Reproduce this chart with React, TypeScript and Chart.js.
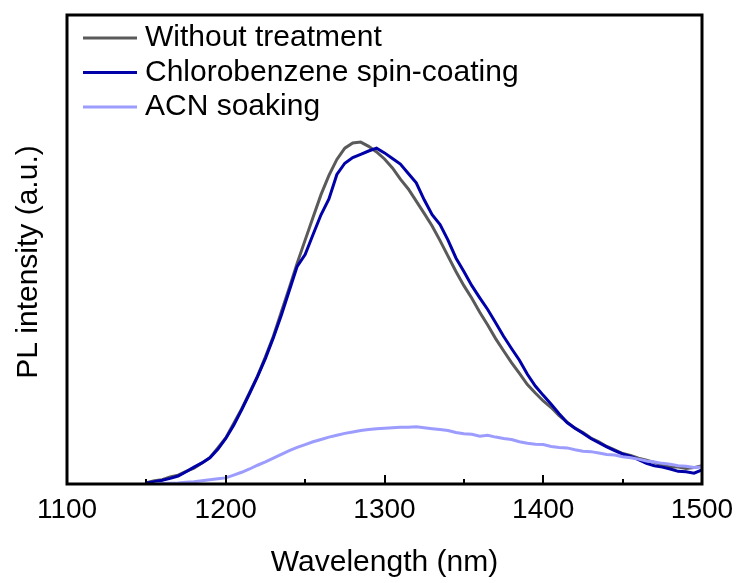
import React, { useEffect, useRef } from "react";
import { Chart, registerables } from "chart.js";

Chart.register(...registerables);

const wavelengths = [
  1150, 1155, 1160, 1165, 1170, 1175, 1180, 1185, 1190, 1195,
  1200, 1205, 1210, 1215, 1220, 1225, 1230, 1235, 1240, 1245,
  1250, 1255, 1260, 1265, 1270, 1275, 1280, 1285, 1290, 1295,
  1300, 1305, 1310, 1315, 1320, 1325, 1330, 1335, 1340, 1345,
  1350, 1355, 1360, 1365, 1370, 1375, 1380, 1385, 1390, 1395,
  1400, 1405, 1410, 1415, 1420, 1425, 1430, 1435, 1440, 1445,
  1450, 1455, 1460, 1465, 1470, 1475, 1480, 1485, 1490, 1495,
  1500,
];

const withoutTreatment = [
  0.3, 0.7, 0.9, 1.5, 1.9, 2.7, 3.4, 4.5, 5.6, 7.7,
  9.8, 12.9, 16.0, 19.5, 23.0, 27.1, 31.5, 36.7, 41.8, 47.1,
  52.0, 56.9, 61.7, 65.8, 69.2, 71.6, 72.7, 72.9, 72.0, 70.8,
  69.3, 67.4, 65.0, 62.9, 60.3, 57.7, 55.0, 51.9, 48.6, 45.3,
  42.3, 39.6, 36.6, 33.9, 31.0, 28.4, 25.9, 23.6, 21.2, 19.4,
  17.7, 16.3, 14.6, 13.2, 11.9, 11.0, 9.8, 9.0, 8.0, 7.3,
  6.5, 6.1, 5.5, 5.1, 4.6, 4.1, 3.6, 3.6, 3.3, 3.5,
  3.9,
];

const chlorobenzene = [
  0.2, 0.5, 0.8, 1.2, 1.7, 2.6, 3.6, 4.5, 5.6, 7.4,
  9.7, 12.5, 15.8, 19.3, 22.9, 26.8, 31.2, 36.0, 41.2, 46.4,
  48.9, 53.2, 57.4, 60.8, 66.0, 68.4, 69.6, 70.3, 71.0, 71.6,
  70.6, 69.4, 68.2, 66.2, 64.2, 60.6, 57.4, 55.3, 52.0, 48.2,
  45.3, 42.3, 39.7, 37.2, 34.4, 31.5, 28.9, 26.4, 23.4, 20.9,
  18.9, 17.0, 15.0, 13.1, 11.9, 10.8, 9.7, 8.8, 7.9, 7.1,
  6.4, 5.9, 5.2, 4.4, 3.9, 3.6, 3.2, 2.7, 2.6, 2.3,
  3.0,
];

const acnSoaking = [
  null, 0.0, 0.1, 0.15, 0.2, 0.35, 0.5, 0.7, 0.9, 1.1,
  1.3, 1.9, 2.5, 3.2, 4.0, 4.7, 5.5, 6.3, 7.1, 7.8,
  8.4, 9.0, 9.5, 10.0, 10.4, 10.8, 11.1, 11.4, 11.6, 11.8,
  11.9, 12.0, 12.1, 12.1, 12.2, 12.0, 11.8, 11.6, 11.4, 11.0,
  10.7, 10.6, 10.2, 10.4, 10.0, 9.7, 9.5, 9.0, 8.7, 8.5,
  8.4, 8.0, 7.8, 7.7, 7.3, 7.0, 6.9, 6.6, 6.3, 6.2,
  5.8, 5.6, 5.3, 4.9, 4.7, 4.4, 4.2, 3.9, 3.8, 3.5,
  3.6,
];

const seriesLabels = ["Without treatment", "Chlorobenzene spin-coating", "ACN soaking"];
const majorTicks = [1100, 1200, 1300, 1400, 1500];
const minorTicks = [1150, 1250, 1350, 1450];

const FONT = "'Liberation Sans', Arial, sans-serif";

const framePlugin = {
  id: "frameAndExtras",
  afterDatasetsDraw(chart: any) {
    const { ctx, chartArea } = chart;
    const xs = chart.scales.x;
    const { left, top, right, bottom } = chartArea;
    ctx.save();
    ctx.strokeStyle = "#000";
    ctx.lineWidth = 2;
    majorTicks.forEach((v) => {
      const px = Math.round(xs.getPixelForValue(v));
      ctx.beginPath();
      ctx.moveTo(px, bottom);
      ctx.lineTo(px, bottom - 9);
      ctx.stroke();
    });
    minorTicks.forEach((v) => {
      const px = Math.round(xs.getPixelForValue(v));
      ctx.beginPath();
      ctx.moveTo(px, bottom);
      ctx.lineTo(px, bottom - 5);
      ctx.stroke();
    });
    ctx.lineWidth = 3;
    ctx.strokeRect(left, top, right - left, bottom - top);
    const rows = [38, 72.5, 107];
    chart.data.datasets.forEach((ds: any, i: number) => {
      const y = rows[i];
      ctx.strokeStyle = ds.borderColor;
      ctx.lineWidth = 3;
      ctx.beginPath();
      ctx.moveTo(83, y);
      ctx.lineTo(137, y);
      ctx.stroke();
      ctx.fillStyle = "#000";
      ctx.font = `30px ${FONT}`;
      ctx.textAlign = "left";
      ctx.textBaseline = "middle";
      ctx.fillText(ds.label, 145, y);
    });
    ctx.translate(29, 262);
    ctx.rotate(-Math.PI / 2);
    ctx.font = `30px ${FONT}`;
    ctx.fillStyle = "#000";
    ctx.textAlign = "center";
    ctx.textBaseline = "middle";
    ctx.fillText("PL intensity (a.u.)", 0, 0);
    ctx.restore();
  },
};

export default function App() {
  const canvasRef = useRef<HTMLCanvasElement | null>(null);

  useEffect(() => {
    document.body.style.margin = "0";
    const canvas = canvasRef.current;
    if (!canvas) return;
    const toPoints = (vals: (number | null)[]) =>
      wavelengths.map((w, i) => ({ x: w, y: vals[i] }));
    const chart = new Chart(canvas, {
      type: "line",
      data: {
        datasets: [
          {
            label: seriesLabels[0],
            data: toPoints(withoutTreatment),
            borderColor: "#5a5a5a",
            borderWidth: 3,
            pointRadius: 0,
            tension: 0,
            order: 3,
          },
          {
            label: seriesLabels[1],
            data: toPoints(chlorobenzene),
            borderColor: "#0000a8",
            borderWidth: 3,
            pointRadius: 0,
            tension: 0,
            order: 2,
          },
          {
            label: seriesLabels[2],
            data: toPoints(acnSoaking),
            borderColor: "#9c9cff",
            borderWidth: 3,
            pointRadius: 0,
            tension: 0,
            order: 1,
          },
        ],
      },
      options: {
        responsive: false,
        animation: false,
        devicePixelRatio: 1,
        layout: { padding: { left: 67, top: 15, right: 36, bottom: 0 } },
        plugins: {
          legend: { display: false },
          tooltip: { enabled: false },
        },
        scales: {
          x: {
            type: "linear",
            min: 1100,
            max: 1500,
            grid: { display: false, drawTicks: false },
            border: { display: false },
            ticks: {
              stepSize: 100,
              padding: 9,
              color: "#000",
              font: { size: 28, family: FONT },
              maxRotation: 0,
              callback: (v: any) => String(v),
            },
            title: {
              display: true,
              text: "Wavelength (nm)",
              color: "#000",
              font: { size: 30, family: FONT },
              padding: { top: 0, bottom: 2 },
            },
            afterFit: (scale: any) => {
              scale.height = 99;
              scale.paddingLeft = 0;
              scale.paddingRight = 0;
            },
          },
          y: {
            display: false,
            min: 0,
            max: 100,
          },
        },
      },
      plugins: [framePlugin],
    });
    return () => chart.destroy();
  }, []);

  return (
    <div style={{ width: 738, height: 583 }}>
      <canvas ref={canvasRef} width={738} height={583} />
    </div>
  );
}
